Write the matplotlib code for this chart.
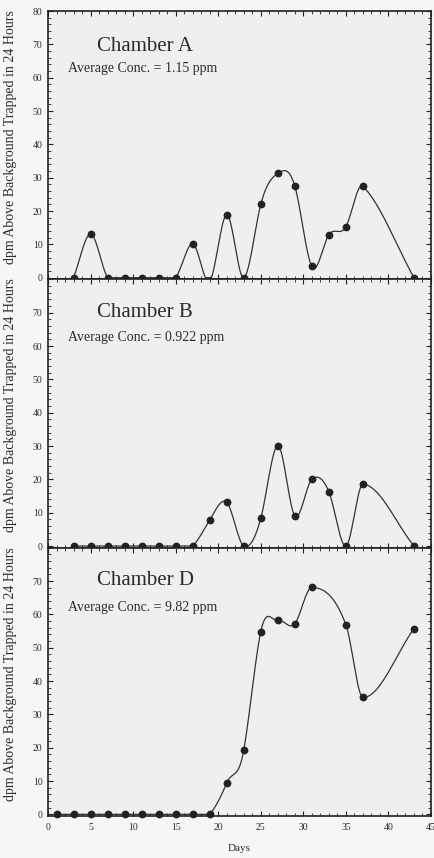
import numpy as np
import matplotlib
matplotlib.use("Agg")
import matplotlib.pyplot as plt
from matplotlib.ticker import MultipleLocator

# ---------------- data ----------------
days_a = [3, 5, 7, 9, 11, 13, 15, 17, 19, 21, 23, 25, 27, 29, 31, 33, 35, 37, 43]
dpm_a = [0, 13.1, 0, 0, 0, 0, 0, 10.2, -1.0, 18.9, 0, 22.0, 31.3, 27.5, 3.4, 12.9, 15.3, 27.4, 0]

days_b = [3, 5, 7, 9, 11, 13, 15, 17, 19, 21, 23, 25, 27, 29, 31, 33, 35, 37, 43]
dpm_b = [0, 0, 0, 0, 0, 0, 0, 0, 7.8, 13.1, 0, 8.3, 30.1, 9.1, 20.0, 16.3, 0, 18.5, 0]

days_d = [1, 3, 5, 7, 9, 11, 13, 15, 17, 19, 21, 23, 25, 27, 29, 31, 35, 37, 43]
dpm_d = [0, 0, 0, 0, 0, 0, 0, 0, 0, 0, 9.4, 19.3, 54.8, 58.2, 57.2, 68.1, 56.9, 35.1, 55.7]

chamber_names = ["Chamber A", "Chamber B", "Chamber D"]
avg_conc = ["Average Conc. = 1.15 ppm", "Average Conc. = 0.922 ppm", "Average Conc. = 9.82 ppm"]
ylabel_text = "dpm Above Background Trapped in 24 Hours"
xlabel_text = "Days"
x_ticks = [0, 5, 10, 15, 20, 25, 30, 35, 40, 45]
y_ticks_top = [0, 10, 20, 30, 40, 50, 60, 70, 80]
y_ticks_other = [0, 10, 20, 30, 40, 50, 60, 70]


def smooth_curve(x, y, n=40, looseness=1.25):
    """Cardinal (Catmull-Rom style) cubic Hermite curve through the points."""
    x = np.asarray(x, float)
    y = np.asarray(y, float)
    m = np.zeros_like(y)
    m[1:-1] = looseness * (y[2:] - y[:-2]) / (x[2:] - x[:-2])
    m[0] = (y[1] - y[0]) / (x[1] - x[0])
    m[-1] = (y[-1] - y[-2]) / (x[-1] - x[-2])
    xs, ys = [], []
    for i in range(len(x) - 1):
        h = x[i + 1] - x[i]
        t = np.linspace(0, 1, n, endpoint=(i == len(x) - 2))
        h00 = 2 * t**3 - 3 * t**2 + 1
        h10 = t**3 - 2 * t**2 + t
        h01 = -2 * t**3 + 3 * t**2
        h11 = t**3 - t**2
        xs.append(x[i] + t * h)
        ys.append(h00 * y[i] + h10 * h * m[i] + h01 * y[i + 1] + h11 * h * m[i + 1])
    return np.concatenate(xs), np.concatenate(ys)


plt.rcParams['font.family'] = ['Liberation Serif', 'DejaVu Serif']
text_col = '#2b2b2b'

fig = plt.figure(figsize=(4.34, 8.58), dpi=100, facecolor='#f6f6f6')

left = 48 / 434
width = (431 - 48) / 434
bottom = 42 / 858
h = 268.3 / 858

datasets = [(days_a, dpm_a), (days_b, dpm_b), (days_d, dpm_d)]
title_y = [68.0, 68.6, 68.7]
avg_y = [61.7, 61.4, 61.0]

for k, (dx, dy) in enumerate(datasets):
    ax = fig.add_axes([left, bottom + (2 - k) * h, width, h])
    ax.set_facecolor('#efefef')
    xs, ys = smooth_curve(dx, dy)
    ys = np.clip(ys, 0, None)
    ax.plot(xs, ys, color='#333333', lw=0.9, zorder=3)
    dx_arr = np.asarray(dx, float)
    dy_arr = np.asarray(dy, float)
    vis = dy_arr >= 0
    ax.plot(dx_arr[vis], dy_arr[vis], 'o', color='#222222', ms=4.6,
            clip_on=False, zorder=5)
    ax.set_xlim(0, 45)
    ax.set_ylim(-0.5, 80)
    ax.xaxis.set_major_locator(MultipleLocator(5))
    ax.xaxis.set_minor_locator(MultipleLocator(1))
    ax.yaxis.set_minor_locator(MultipleLocator(2))
    if k == 0:
        ax.set_yticks(y_ticks_top)
    else:
        ax.set_yticks(y_ticks_other)
    ax.tick_params(which='both', direction='in', top=True, right=True,
                   colors='#222222', labelcolor=text_col, labelsize=7, pad=4)
    ax.tick_params(which='major', length=3.5, width=0.8)
    ax.tick_params(which='minor', length=2, width=0.6)
    for s in ax.spines.values():
        s.set_linewidth(1.2)
        s.set_color('#222222')
    if k == 2:
        ax.set_xticks(x_ticks)
        ax.tick_params(axis='x', labelsize=7, pad=5)
        ax.set_xlabel(xlabel_text, fontsize=8, color=text_col, labelpad=9)
    else:
        ax.tick_params(axis='x', labelbottom=False)
    ax.set_ylabel(ylabel_text, fontsize=10, color=text_col)
    ax.yaxis.set_label_coords(-0.082, 0.53)
    ax.text(5.8, title_y[k], chamber_names[k], fontsize=15, color=text_col)
    ax.text(2.3, avg_y[k], avg_conc[k], fontsize=10, color=text_col)

fig.savefig('out.png', dpi=100, facecolor=fig.get_facecolor())
